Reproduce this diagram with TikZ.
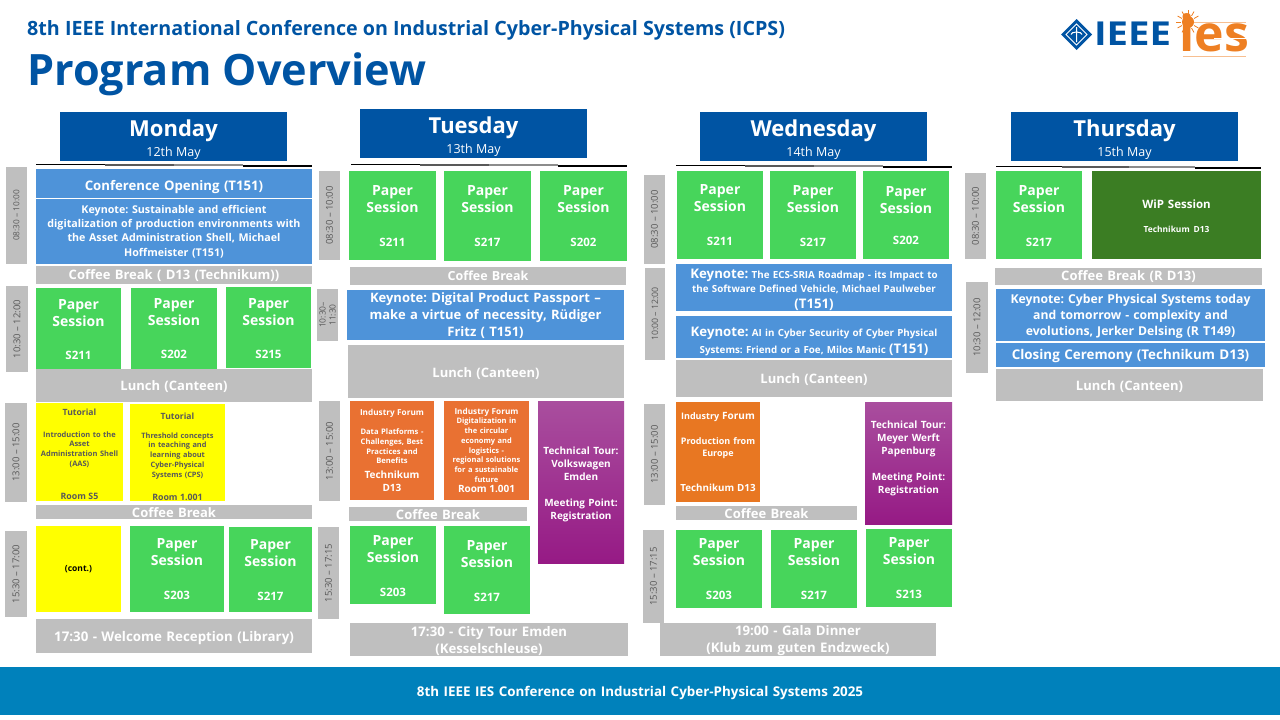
\documentclass[tikz,border=0pt]{standalone}
\usepackage{fontspec}
\setmainfont{Open Sans}
\usetikzlibrary{calc,positioning}
\frenchspacing

\definecolor{ieeeblue}{HTML}{0054A3}
\definecolor{keyblue}{HTML}{4E93D9}
\definecolor{papergreen}{HTML}{47D55B}
\definecolor{wipgreen}{HTML}{3B7D23}
\definecolor{breakgray}{HTML}{BFBFBF}
\definecolor{timetext}{HTML}{595959}
\definecolor{forumorange}{HTML}{E97132}
\definecolor{forumtwo}{HTML}{E87722}
\definecolor{footblue}{HTML}{0081BB}
\definecolor{iesorange}{HTML}{EE7F22}
\definecolor{tutyellow}{HTML}{FFFF00}
\definecolor{tourtop}{HTML}{A94E9E}
\definecolor{tourbottom}{HTML}{961A85}

\tikzset{
  slot/.style={rectangle, inner sep=0pt, align=center, text=white, font=\bfseries},
  keynote/.style={slot, fill=keyblue},
  paper/.style={slot, fill=papergreen},
  pause/.style={slot, fill=breakgray},
  tutorial/.style={slot, fill=tutyellow, text=timetext},
  forum/.style={slot, fill=forumorange},
  tour/.style={slot, top color=tourtop, bottom color=tourbottom},
  wip/.style={slot, fill=wipgreen},
  timebox/.style={slot, fill=breakgray, text=timetext, font=\fontsize{9.5}{11}\selectfont, rotate=90},
  papertitle/.style={text=white, font=\fontsize{14}{17}\selectfont\bfseries, align=center, inner sep=0pt},
  roomname/.style={text=white, font=\fontsize{11.5}{12}\selectfont\bfseries, inner sep=0pt},
  dayhead/.style={text=white, font=\fontsize{22}{24}\selectfont\bfseries, inner sep=0pt},
  daydate/.style={text=white, font=\fontsize{12.5}{14}\selectfont, inner sep=0pt}
}

% move a text down or up inside its box
\newcommand{\down}[1]{\rule{0pt}{\dimexpr .76em+#1pt*2\relax}}
\newcommand{\up}[1]{\par\vspace*{\dimexpr #1pt*2\relax}}
% #1 style, #2 name, #3 #4 top left, #5 #6 bottom right, #7 text
\newcommand{\slotbox}[7]{%
  \pgfmathsetmacro{\cw}{#5-#3}\pgfmathsetmacro{\ch}{#6-#4}%
  \node[#1, minimum width=\cw pt, minimum height=\ch pt, text width=\cw pt-2pt]
    (#2) at ({(#3+#5)/2},{(#4+#6)/2}) {#7};}
% #6 room, #7 height of the title, #8 height of the room
\newcommand{\paperslot}[8]{%
  \slotbox{paper}{#1}{#2}{#3}{#4}{#5}{}%
  \node[papertitle] (#1t) at (#1.center |- 0,#7) {Paper\\Session};
  \node[roomname] (#1r) at (#1.center |- 0,#8) {#6};}
\newcommand{\dayslot}[5]{%
  \slotbox{slot, fill=ieeeblue}{#1}{#2}{#3}{#2+227}{#3+49}{}%
  \node[dayhead] (#1n) at ($(#1.north)+(0,19)$) {#4};
  \node[daydate] (#1d) at ($(#1.south)+(0,-8)$) {#5};}

\begin{document}
\begin{tikzpicture}[x=1pt,y=-1pt]
\useasboundingbox (0,0) rectangle (1280,720);

% title and footer
\node[anchor=west, inner sep=0pt, text=ieeeblue, font=\fontsize{19.7}{22}\selectfont\bfseries] (conf) at (27,30.5)
  {8th IEEE International Conference on Industrial Cyber-Physical Systems (ICPS)};
\node[anchor=west, inner sep=0pt, text=ieeeblue, font=\fontsize{43.2}{48}\selectfont\bfseries] (prog) at (27,74) {Program Overview};
\slotbox{slot, fill=footblue, font=\fontsize{13.4}{15}\selectfont\bfseries}{foot}{0}{667}{1280}{715}
  {\down{2.5}8th IEEE IES Conference on Industrial Cyber-Physical Systems 2025};

% logos
\fill[ieeeblue] (1076.5,19) -- (1092,34.5) -- (1076.5,50) -- (1061,34.5) -- cycle;
\draw[white, line width=0.8pt] (1076.5,24) -- (1087,34.5) -- (1076.5,45) -- (1066,34.5) -- cycle;
\draw[white, line width=1pt] (1076.5,27) -- (1076.5,42) (1071,34.5) arc (180:360:5.5 and 2.5);
\node[inner sep=0pt, text=ieeeblue, xscale=1.16, font=\fontsize{33}{34}\selectfont\bfseries] (ieee) at (1132.5,34) {IEEE};
\node[inner sep=0pt, text=iesorange, font=\fontsize{50}{50}\selectfont\bfseries] (ies) at (1214.5,33) {ies};
\draw[white, line width=0.8pt] (1214,38.5) -- (1247,38.5);
\fill[iesorange] (1188,22) circle (6);
\foreach \a in {0,30,...,330}
  \draw[iesorange, line width=0.8pt] (1188,22) ++(\a:7) -- ++(\a:5);
\draw[iesorange!50, line width=1pt] (1194,22.5) -- (1246,22.5) (1183,56) -- (1246,56);

% day headers
\dayslot{mon}{60}{112}{Monday}{12th May}
\dayslot{tue}{360}{109}{Tuesday}{13th May}
\dayslot{wed}{700}{112}{Wednesday}{14th May}
\dayslot{thu}{1011}{112}{Thursday}{15th May}

% rules under the headers
\foreach \xa/\ya/\xb/\xc/\xd/\xe in {36/165/105/174/243/312, 351/165/420/489/558/627, 676/166/745/814/883/952, 996/167/1062/1129/1195/1261}{
  \draw[black, line width=1.8pt] (\xa,\ya-0.6) -- (\xb,\ya-0.6);
  \draw[black!65, line width=1.8pt] (\xb,\ya-0.2) -- (\xc,\ya-0.2);
  \draw[black!45, line width=1.8pt] (\xc,\ya-0.2) -- (\xd,\ya-0.2);
  \draw[black, line width=1.8pt] (\xd,\ya+0.8) -- (\xe,\ya+0.8);
}

% time labels
\foreach \nm/\xa/\ya/\xb/\yb/\lbl in {
  tb/6/286/28/372/10:30 -- 12:00, tc/5/403/27/502/13:00 -- 15:00, td/5/531/27/617/15:30 -- 17:00,
  te/319/171/340/260/08:30 -- 10:00, tf/319/401/340/501/13:00 -- 15:00, tg/318/527/339/619/15:30 -- 17:15,
  th/644/175/665/264/08:30 -- 10:00, tj/644/404/665/505/13:00 -- 15:00, tk/643/530/664/623/15:30 -- 17:15,
  tl/965/173/986/259/08:30 -- 10:00, tm/966/282/988/373/10:30 -- 12:00}{
  \pgfmathsetmacro{\cw}{\xb-\xa}\pgfmathsetmacro{\ch}{\yb-\ya}
  \node[timebox, minimum width=\ch pt, minimum height=\cw pt] (\nm) at ({(\xa+\xb)/2},{(\ya+\yb)/2}) {\lbl};
}
\node[timebox, minimum width=97pt, minimum height=21pt, font=\fontsize{8.3}{10}\selectfont] (ta) at (16.5,215.5) {08:30 -- 10:00};
\node[timebox, minimum width=92pt, minimum height=20pt, font=\fontsize{8.8}{10}\selectfont] (ti) at (655,314) {10:00 -- 12:00};
\node[timebox, minimum width=52pt, minimum height=21pt, font=\fontsize{8.5}{10}\selectfont, align=center] (tn) at (327.5,315) {10:30--\\11:30};

% Monday
\slotbox{keynote, font=\fontsize{13.2}{15}\selectfont\bfseries}{mopen}{36}{169}{312}{198}{\down{3.5}Conference Opening (T151)}
\slotbox{keynote, font=\fontsize{10.7}{14.3}\selectfont\bfseries}{mkey}{36}{199}{312}{264}{Keynote: Sustainable and efficient\\digitalization of production environments with\\the Asset Administration Shell, Michael\\Hoffmeister  (T151)}
\slotbox{pause, font=\fontsize{13}{14}\selectfont\bfseries}{mcof}{36}{266}{312}{284}{\down{1}Coffee Break ( D13 (Technikum))}
\paperslot{ma}{36}{288}{121}{369}{S211}{313}{355}
\paperslot{mb}{131}{288}{217}{369}{S202}{312}{354}
\paperslot{mc}{226}{287}{311}{368}{S215}{312}{354}
\slotbox{pause, font=\fontsize{13}{14}\selectfont\bfseries}{mlun}{36}{369}{312}{402}{\down{1.5}Lunch (Canteen)}
\slotbox{tutorial, font=\fontsize{7.5}{9.8}\selectfont\bfseries}{mtua}{36}{403}{123}{501}{{\fontsize{8.6}{10}\selectfont\down{2}Tutorial}\\[12pt]Introduction to the\\Asset\\Administration Shell\\(AAS)\\[23pt]{\fontsize{8.8}{10}\selectfont Room S5}}
\slotbox{tutorial, font=\fontsize{7.4}{9.8}\selectfont\bfseries}{mtub}{130}{404}{225}{501}{{\fontsize{8.6}{10}\selectfont\down{4}Tutorial}\\[9pt]Threshold concepts\\in teaching and\\learning about\\Cyber-Physical\\Systems (CPS)\\[13pt]{\fontsize{8.8}{10}\selectfont Room 1.001}}
\slotbox{pause, font=\fontsize{13}{14}\selectfont\bfseries}{mcog}{36}{505}{312}{519}{\down{1}Coffee Break}
\slotbox{tutorial, text=black, font=\fontsize{8.5}{10}\selectfont\bfseries}{mcon}{36}{526}{121}{612}{(cont.)}
\paperslot{md}{130}{526}{224}{612}{S203}{552.5}{595}
\paperslot{me}{229}{527}{312}{612}{S217}{553.5}{596}
\slotbox{pause, font=\fontsize{13.3}{15}\selectfont\bfseries}{mwel}{36}{619}{312}{653}{\down{2.5}17:30 - Welcome Reception (Library)}

% Tuesday
\paperslot{ta1}{349}{171}{436}{260}{S211}{199.5}{242}
\paperslot{tb1}{444}{171}{531}{261}{S217}{199.5}{242}
\paperslot{tc1}{540}{171}{627}{261}{S202}{199.5}{242}
\slotbox{pause, font=\fontsize{12.5}{14}\selectfont\bfseries}{tcof}{350}{267}{626}{285}{Coffee Break}
\slotbox{keynote, font=\fontsize{13}{17}\selectfont\bfseries}{tkey}{347}{290}{624}{340}{\down{1}Keynote: Digital Product Passport --\\make a virtue of necessity, Rüdiger\\Fritz ( T151)}
\slotbox{pause, font=\fontsize{13}{14}\selectfont\bfseries}{tlun}{348}{345}{624}{398}{\down{2}Lunch (Canteen)}
\slotbox{forum, font=\fontsize{7.6}{9.7}\selectfont\bfseries}{tfoa}{350}{401}{434}{500}{{\fontsize{8.2}{10}\selectfont Industry Forum}\\[9pt]Data Platforms -\\Challenges, Best\\Practices and\\Benefits\\[5pt]{\fontsize{10}{12}\selectfont Technikum}\\[3pt]{\fontsize{10}{12}\selectfont D13}}
\slotbox{forum, font=\fontsize{7.5}{9.7}\selectfont\bfseries}{tfob}{444}{401}{529}{500}{{\fontsize{8.2}{10}\selectfont Industry Forum}\\Digitalization in\\the circular\\economy and\\logistics -\\regional solutions\\for a sustainable\\future\\[1pt]{\fontsize{10}{12}\selectfont Room 1.001}}
\slotbox{tour, font=\fontsize{10}{13}\selectfont\bfseries}{ttou}{538}{401}{624}{563}{\down{2}Technical Tour:\\Volkswagen\\Emden\\[13pt]Meeting Point:\\Registration}
\slotbox{pause, font=\fontsize{13}{14}\selectfont\bfseries}{tcog}{349}{507}{527}{521}{\down{0.5}Coffee Break}
\paperslot{td1}{350}{526}{436}{604}{S203}{549.5}{592}
\paperslot{te1}{444}{526}{530}{614}{S217}{554.5}{597}
\slotbox{pause, font=\fontsize{13.2}{17}\selectfont\bfseries}{tcit}{350}{623}{628}{656}{\down{1.5}17:30 - City Tour Emden\\(Kesselschleuse)}

% Wednesday
\paperslot{wa}{677}{171}{763}{259}{S211}{198.5}{241}
\paperslot{wb}{770}{171}{856}{259}{S217}{199.5}{242}
\paperslot{wc}{863}{171}{949}{259}{S202}{200.5}{240}
\slotbox{keynote, font=\fontsize{9.8}{13.5}\selectfont\bfseries}{wkea}{676}{264}{952}{311}{{\fontsize{13.2}{14}\selectfont\down{2.5}Keynote:} The ECS-SRIA Roadmap - its Impact to\\the Software Defined Vehicle, Michael Paulweber\\[3pt]{\fontsize{13.2}{14}\selectfont (T151)}}
\slotbox{keynote, font=\fontsize{9.8}{17}\selectfont\bfseries}{wkeb}{676}{316}{952}{358}{{\fontsize{13.2}{14}\selectfont\down{4}Keynote:} AI in Cyber Security of Cyber Physical\\Systems: Friend or a Foe, Milos Manic {\fontsize{13.2}{14}\selectfont (T151)}}
\slotbox{pause, font=\fontsize{13}{14}\selectfont\bfseries}{wlun}{676}{360}{952}{397}{\down{1.5}Lunch (Canteen)}
\slotbox{slot, fill=forumtwo, font=\fontsize{9}{12}\selectfont\bfseries}{wfor}{676}{402}{760}{502}{Industry {\fontsize{10}{12}\selectfont Forum}\\[13pt]Production from\\Europe\\[23pt]{\fontsize{9.8}{12}\selectfont Technikum D13}}
\slotbox{tour, font=\fontsize{10}{13}\selectfont\bfseries}{wtou}{865}{402}{952}{524}{Technical Tour:\\Meyer Werft\\Papenburg\\[13pt]Meeting Point:\\Registration\up{5}}
\slotbox{pause, font=\fontsize{13}{14}\selectfont\bfseries}{wcof}{676}{506}{857}{520}{\down{0.5}Coffee Break}
\paperslot{wd}{676}{530}{762}{608}{S203}{552.5}{595}
\paperslot{we}{771}{530}{857}{608}{S217}{552.5}{595}
\paperslot{wf}{866}{529}{952}{607}{S213}{551.5}{594}
\slotbox{pause, font=\fontsize{13.2}{17}\selectfont\bfseries}{wgal}{660}{623}{936}{656}{\down{1.5}19:00 - Gala Dinner\\(Klub zum guten Endzweck)}

% Thursday
\paperslot{ha}{996}{171}{1082}{259}{S217}{199.5}{242}
\slotbox{wip, font=\fontsize{11.5}{24}\selectfont\bfseries}{hwip}{1092}{171}{1261}{259}{\down{1.5}WiP Session\\{\fontsize{8.4}{12}\selectfont Technikum D13}}
\slotbox{pause, font=\fontsize{13}{14}\selectfont\bfseries}{hcof}{995}{268}{1262}{285}{Coffee Break (R D13)}
\slotbox{keynote, font=\fontsize{12.2}{16}\selectfont\bfseries}{hkey}{996}{289}{1265}{341}{\down{1.5}Keynote: Cyber Physical Systems today\\and tomorrow - complexity and\\evolutions, Jerker Delsing (R T149)}
\slotbox{keynote, font=\fontsize{13.4}{15}\selectfont\bfseries}{hclo}{996}{343}{1265}{367}{\down{1.5}Closing Ceremony (Technikum D13)}
\slotbox{pause, font=\fontsize{13}{14}\selectfont\bfseries}{hlun}{996}{369}{1263}{401}{\down{1.5}Lunch (Canteen)}
\end{tikzpicture}
\end{document}
